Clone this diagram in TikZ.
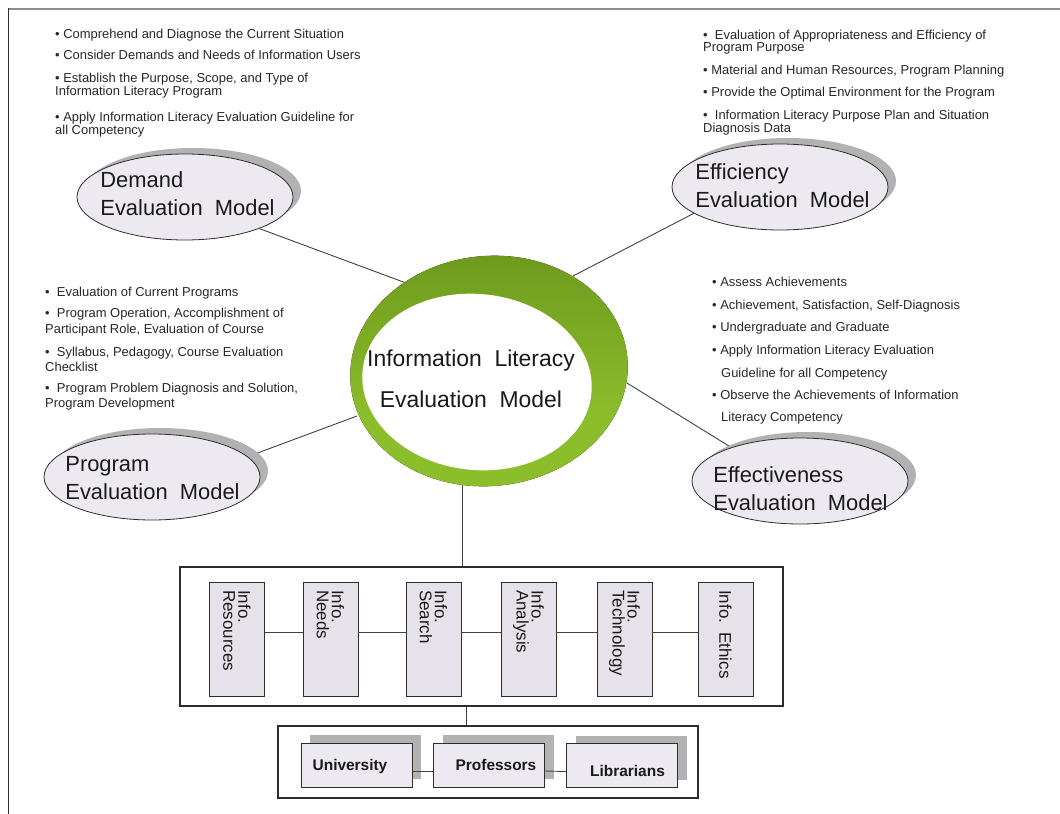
\documentclass[tikz,border=0pt]{standalone}
\usepackage{fontspec}
\setmainfont{Liberation Sans}
\usetikzlibrary{shapes.geometric,shadows,backgrounds}
\definecolor{efill}{RGB}{236,234,240}
\definecolor{bfill}{RGB}{229,227,233}
\definecolor{shadowgray}{RGB}{178,178,178}
\definecolor{linegray}{RGB}{45,45,45}
\definecolor{topgray}{RGB}{140,140,140}
\definecolor{gdark}{RGB}{82,112,18}
\definecolor{gmid}{RGB}{112,156,30}
\definecolor{glight}{RGB}{140,190,44}
\pgfdeclareverticalshading{ringshade}{100bp}{color(0bp)=(glight); color(40bp)=(glight); color(72bp)=(gmid); color(100bp)=(gdark)}
\begin{document}
\begin{tikzpicture}[x=1bp,y=-1bp]
\tikzset{
 modelnode/.style={ellipse, draw=linegray, line width=0.8bp, fill=efill, minimum width=216bp, minimum height=86bp, inner sep=0pt, general shadow={fill=shadowgray, shadow xshift=8bp, shadow yshift=6bp}},
 modeltext/.style={align=left, inner sep=0pt, text=black!90, font=\fontsize{22}{28}\selectfont},
 coretext/.style={align=center, inner sep=0pt, text=black!90, font=\fontsize{23}{41}\selectfont},
 conn/.style={draw=linegray!90, line width=0.9bp},
 bullettext/.style={anchor=base west, inner sep=0pt, text=black!85, font=\fontsize{13}{15}\selectfont},
 infobox/.style={draw=linegray, line width=0.9bp, fill=bfill, minimum width=55bp, minimum height=114bp, inner sep=0pt},
 infotext/.style={rotate=-90, anchor=west, align=left, inner sep=0pt, text=black!90, font=\fontsize{17}{15}\selectfont},
 outerbox/.style={draw=linegray, line width=1.1bp, fill=white, inner sep=0pt},
 personbox/.style={draw=linegray, line width=0.9bp, fill=efill, minimum width=111bp, minimum height=44bp, inner sep=0pt, general shadow={fill=shadowgray, shadow xshift=9bp, shadow yshift=8bp}},
 persontext/.style={anchor=base, inner sep=0pt, text=black!90, font=\bfseries\fontsize{15.5}{18}\selectfont},
}
\useasboundingbox (0,0) rectangle (1060,814);
% frame lines
\draw[line width=2bp, topgray] (8,9) -- (1060,9);
\draw[line width=1bp, linegray] (8,8) -- (8,814);

% bullet texts
\foreach \bx/\by/\bt [count=\i] in {
 55/38.5/{• Comprehend and Diagnose the Current Situation},
 55/59.5/{• Consider Demands and Needs of Information Users},
 55/82.5/{• Establish the Purpose, Scope, and Type of},
 55/95.5/{Information Literacy Program},
 55/121.5/{• Apply Information Literacy Evaluation Guideline for},
 55/134.5/{all Competency},
 703/39.5/{•~ Evaluation of Appropriateness and Efficiency of},
 703/51.5/{Program Purpose},
 703/74.5/{• Material and Human Resources, Program Planning},
 703/96.5/{• Provide the Optimal Environment for the Program},
 703/119.5/{•~ Information Literacy Purpose Plan and Situation},
 703/132.5/{Diagnosis Data},
 45/296.5/{•~ Evaluation of Current Programs},
 45/317.5/{•~ Program Operation, Accomplishment of},
 45/333.5/{Participant Role, Evaluation of Course},
 45/356.5/{•~ Syllabus, Pedagogy, Course Evaluation},
 45/371.5/{Checklist},
 45/392.5/{•~ Program Problem Diagnosis and Solution,},
 45/407.5/{Program Development},
 712/286.5/{• Assess Achievements},
 712/309.5/{• Achievement, Satisfaction, Self-Diagnosis},
 712/331.5/{• Undergraduate and Graduate},
 712/354.5/{• Apply Information Literacy Evaluation},
 721/377.5/{Guideline for all Competency},
 712/399.5/{• Observe the Achievements of Information},
 721/421.5/{Literacy Competency}}
 { \node[bullettext] (bl\i) at (\bx,\by) {\bt}; }

% central ring
\fill[shading=ringshade, rotate around={6:(489,371)}] (489,371) ellipse [x radius=139bp, y radius=115bp];
\fill[white, rotate around={-6:(477,382)}] (477,382) ellipse [x radius=115bp, y radius=88bp];
\node[coretext] (core) at (471,379) {Information\ \ Literacy\\Evaluation\ \ Model};
\coordinate (rDem) at (406,283);
\coordinate (rEff) at (573,276);
\coordinate (rPro) at (357,416);
\coordinate (rEfv) at (627,383);
\coordinate (rBot) at (462,485);

% model ellipses
\node[modelnode] (dem) at (185,197) {};
\node[modeltext] (demt) at (187.5,194) {Demand\\Evaluation\ \ Model};
\node[modelnode] (eff) at (780,187) {};
\node[modeltext] (efft) at (782.5,186) {Efficiency\\Evaluation\ \ Model};
\node[modelnode] (pro) at (152,477) {};
\node[modeltext] (prot) at (152.5,478) {Program\\Evaluation\ \ Model};
\node[modelnode] (efv) at (800,481) {};
\node[modeltext] (efvt) at (800.5,489) {Effectiveness\\Evaluation\ \ Model};

% info boxes
\node[outerbox, minimum width=603bp, minimum height=139bp] (ibx) at (481.5,636.5) {};
\foreach \cx/\tx [count=\i] in {237/{Info.\\Resources}, 330.5/{Info.\\Needs}, 433.5/{Info.\\Search}, 528.5/{Info.\\Analysis}, 624.5/{Info.\\Technology}, 725.5/{Info.\ \ Ethics}}
 { \node[infobox] (ib\i) at (\cx,639) {};
   \node[infotext] (it\i) at (\cx,590) {\tx}; }

% person boxes
\node[outerbox, minimum width=420bp, minimum height=72bp] (pbx) at (488,762) {};
\node[personbox] (uni) at (356.5,765) {};
\node[personbox] (prof) at (489,765) {};
\node[personbox] (lib) at (622,765.5) {};
\node[persontext] (unit) at (350,770) {University};
\node[persontext] (proft) at (496,770) {Professors};
\node[persontext] (libt) at (627.5,776) {Librarians};
\coordinate (jn) at (466,716);

\begin{scope}[on background layer]
\draw[conn] (dem.-23) -- (rDem);
\draw[conn] (eff.-163) -- (rEff);
\draw[conn] (pro.12) -- (rPro);
\draw[conn] (efv.154) -- (rEfv);
\draw[conn] (rBot) -- (rBot |- ibx.north);
\end{scope}
\foreach \a/\b in {1/2,2/3,3/4,4/5,5/6}
 { \draw[conn] ([yshift=7bp]ib\a.east) -- ([yshift=7bp]ib\b.west); }
\draw[conn] (ibx.south -| jn) -- (pbx.north -| jn);
\draw[conn] ([yshift=-6bp]uni.east) -- ([yshift=-6bp]prof.west);
\draw[conn] ([yshift=-6bp]prof.east) -- ([yshift=-6bp]lib.west);
\end{tikzpicture}
\end{document}
